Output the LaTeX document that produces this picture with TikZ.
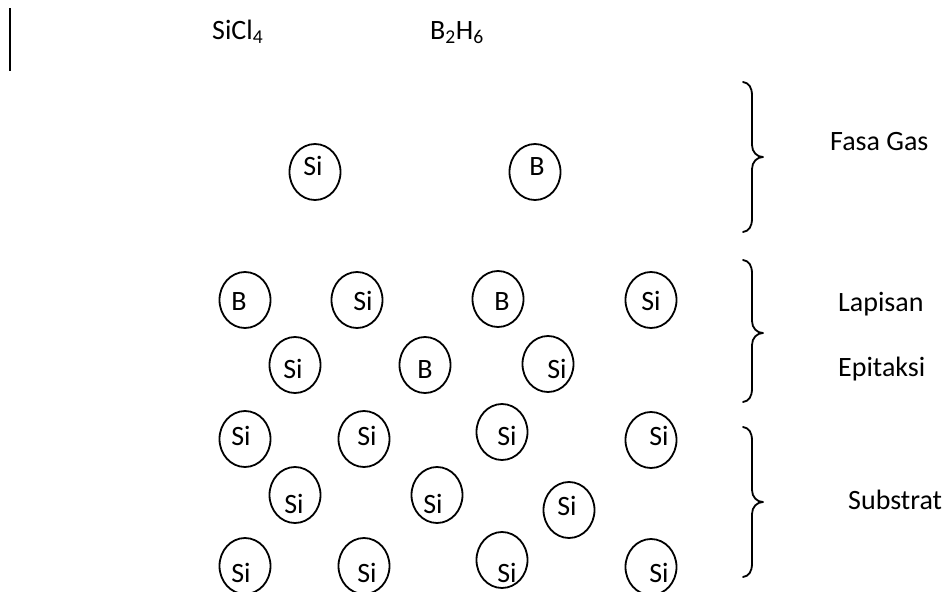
\documentclass[tikz,border=0pt]{standalone}
\usepackage{fontspec}
\setmainfont{Carlito}
\usetikzlibrary{shapes.geometric}
\tikzset{
  atom/.style={draw, ellipse, line width=1.8pt, minimum width=51pt, minimum height=56pt, inner sep=0pt},
  lbl/.style={anchor=base, inner sep=0pt, font=\fontsize{28}{33}\selectfont},
  side/.style={anchor=base west, inner sep=0pt, font=\fontsize{28}{33}\selectfont},
  bracestyle/.style={line width=1.8pt, line cap=round, line join=round}
}
\newcommand\wordbrace[3]{%
  \draw[bracestyle] (743,#1) .. controls (749,{#1+1}) and (752,{#1+5}) .. (752,{#1+14})
    -- (752,{#2-12}) .. controls (752,{#2-5}) and (757,#2) .. (763,#2)
    .. controls (757,#2) and (752,{#2+5}) .. (752,{#2+12})
    -- (752,{#3-14}) .. controls (752,{#3-5}) and (749,{#3-1}) .. (743,#3);}
\begin{document}
\begin{tikzpicture}[x=1pt,y=-1pt]
\useasboundingbox (0,0) rectangle (951,592);
\begin{scope}
\clip (0,0) rectangle (951,592);
% left bar
\coordinate (barTop) at (10,8);
\coordinate (barBot) at (10,71);
\draw[line width=2pt] (barTop) -- (barBot);
% top labels
\node[side] (sicl) at (212,39) {SiCl\textsubscript{4}};
\node[side] (bh) at (430,39) {B\textsubscript{2}H\textsubscript{6}};
% gas phase
\node[atom] (g1) at (315,172) {}; \node[lbl] (tg1) at (313,175) {Si};
\node[atom] (g2) at (535,172) {}; \node[lbl] (tg2) at (537,175) {B};
% row 1
\node[atom] (a11) at (245,300) {}; \node[lbl] (t11) at (239,310) {B};
\node[atom] (a12) at (357,300) {}; \node[lbl] (t12) at (363,310) {Si};
\node[atom] (a13) at (498,299) {}; \node[lbl] (t13) at (502,310) {B};
\node[atom] (a14) at (651,300) {}; \node[lbl] (t14) at (651,310) {Si};
% row 2
\node[atom] (a21) at (295,365) {}; \node[lbl] (t21) at (293,378) {Si};
\node[atom] (a22) at (425,365) {}; \node[lbl] (t22) at (425,378) {B};
\node[atom] (a23) at (548,364) {}; \node[lbl] (t23) at (557,378) {Si};
% row 3
\node[atom] (a31) at (245,439) {}; \node[lbl] (t31) at (241,445) {Si};
\node[atom] (a32) at (364,439) {}; \node[lbl] (t32) at (367,445) {Si};
\node[atom] (a33) at (502,432) {}; \node[lbl] (t33) at (507,445) {Si};
\node[atom] (a34) at (651,440) {}; \node[lbl] (t34) at (659,445) {Si};
% row 4
\node[atom] (a41) at (295,495) {}; \node[lbl] (t41) at (294,513) {Si};
\node[atom] (a42) at (437,495) {}; \node[lbl] (t42) at (433,513) {Si};
\node[atom] (a43) at (569,510) {}; \node[lbl] (t43) at (567,515) {Si};
% row 5
\node[atom] (a51) at (245,566) {}; \node[lbl] (t51) at (241,582) {Si};
\node[atom] (a52) at (364,566) {}; \node[lbl] (t52) at (367,582) {Si};
\node[atom] (a53) at (502,560) {}; \node[lbl] (t53) at (507,582) {Si};
\node[atom] (a54) at (651,567) {}; \node[lbl] (t54) at (659,582) {Si};
% braces
\wordbrace{82}{157}{232}
\wordbrace{260}{333}{402}
\wordbrace{427}{502}{577}
% side labels
\node[side] (fg) at (830,150) {Fasa Gas};
\node[side] (lp) at (838,311) {Lapisan};
\node[side] (ep) at (838,376) {Epitaksi};
\node[side] (sb) at (848,509) {Substrat};
\end{scope}
\end{tikzpicture}
\end{document}
